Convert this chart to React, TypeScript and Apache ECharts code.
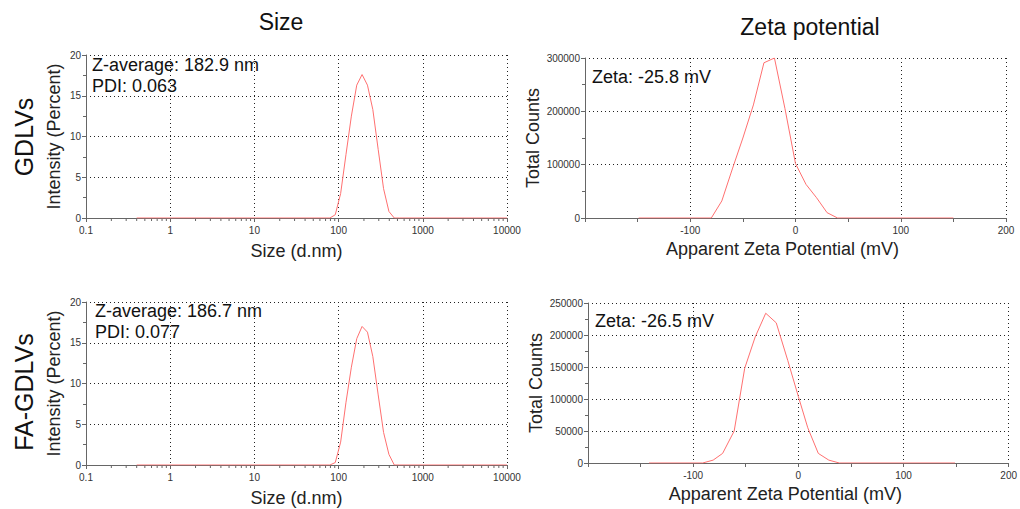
import React, { useEffect, useRef } from "react";
import * as echarts from "echarts";

const FONT = '"Liberation Sans", Arial, Helvetica, sans-serif';

// ---- Size distribution (intensity %) ----
const sizeBinsNm = [0.4, 78.82, 91.28, 105.7, 122.4, 141.8, 164.2, 190.1, 220.2, 255.0, 295.3, 342.0, 396.1, 458.7, 531.2, 10000];
const gdlvsIntensity = [0, 0, 0.4, 3.0, 7.8, 12.5, 16.3, 17.6, 16.3, 13.3, 8.4, 3.6, 0.8, 0, 0, 0];
const faGdlvsIntensity = [0, 0, 0.3, 2.8, 7.7, 12.0, 15.5, 17.0, 16.3, 13.3, 8.6, 4.0, 1.3, 0, 0, 0];

// ---- Zeta potential (total counts) ----
const gdlvsZetaMv = [-149, -80, -70, -60, -50, -40, -30, -20, -10, 0, 10, 20, 30, 40, 150];
const gdlvsCounts = [0, 0, 32000, 92000, 150000, 212000, 291000, 300000, 205000, 102000, 63000, 38000, 10000, 0, 0];
const faGdlvsZetaMv = [-142, -91, -81, -72, -61, -51, -41, -31, -21, -10, 0, 9, 19, 29, 39, 149];
const faGdlvsCounts = [0, 0, 4500, 15000, 50000, 148000, 197000, 234000, 219000, 160000, 104000, 55000, 15000, 4500, 0, 0];

// ---- Axis decoration ----
const logDecades = [0.1, 1, 10, 100, 1000];
const logMinorMultipliers = [2, 3, 4, 5, 6, 7, 8, 9];

const rowLabels = ["GDLVs", "FA-GDLVs"];
const columnTitles = ["Size", "Zeta potential"];
const sizeNotes = [
  ["Z-average: 182.9 nm", "PDI: 0.063"],
  ["Z-average: 186.7 nm", "PDI: 0.077"],
];
const zetaNotes = ["Zeta: -25.8 mV", "Zeta: -26.5 mV"];

const AXIS_COLOR = "#666";
const GRID_LINE = { color: "#222", type: [1, 3] as number[], width: 1 };
const LABEL = { fontSize: 10, color: "#333", fontFamily: FONT };
const NAME = { fontSize: 18, color: "#222", fontFamily: FONT };
const CURVE = "#ff7070";

function pairs(xs: number[], ys: number[]) {
  return xs.map((x, i) => [x, ys[i]]);
}

function buildOption() {
  const grids = [
    { left: 86, top: 55, width: 421, height: 163 },
    { left: 585, top: 58, width: 421, height: 160 },
    { left: 86, top: 302, width: 421, height: 163 },
    { left: 588, top: 303, width: 421, height: 160 },
  ];

  const baseAxis = {
    axisLine: { show: true, onZero: false, lineStyle: { color: AXIS_COLOR, width: 1 } },
    axisTick: { show: true, inside: false, length: 4, lineStyle: { color: AXIS_COLOR } },
    splitLine: { show: true, lineStyle: GRID_LINE },
  };

  const sizeX = (gridIndex: number) => ({
    ...baseAxis,
    type: "log",
    logBase: 10,
    gridIndex,
    min: 0.1,
    max: 10000,
    name: "Size (d.nm)",
    nameLocation: "middle",
    nameGap: 24,
    nameTextStyle: NAME,
    axisLabel: { ...LABEL, margin: 7, formatter: (v: number) => String(+v.toPrecision(6)) },
  });
  const zetaX = (gridIndex: number) => ({
    ...baseAxis,
    type: "value",
    gridIndex,
    min: -200,
    max: 200,
    interval: 100,
    name: "Apparent Zeta Potential (mV)",
    nameLocation: "middle",
    nameGap: 22,
    nameTextStyle: { ...NAME, padding: [0, 26, 0, 0] },
    minorTick: { show: true, splitNumber: 2, length: 4, lineStyle: { color: AXIS_COLOR } },
    axisLabel: { ...LABEL, margin: 7, formatter: (v: number) => (v === -200 ? "" : String(v)) },
  });
  const sizeY = (gridIndex: number) => ({
    ...baseAxis,
    type: "value",
    gridIndex,
    min: 0,
    max: 20,
    interval: 5,
    name: "Intensity (Percent)",
    nameLocation: "middle",
    nameRotate: 90,
    nameGap: 23,
    nameTextStyle: NAME,
    minorTick: { show: true, splitNumber: 2, length: 3, lineStyle: { color: AXIS_COLOR } },
    axisLabel: { ...LABEL, margin: 5, formatter: (v: number) => String(v) },
  });
  const zetaY = (gridIndex: number, max: number, interval: number) => ({
    ...baseAxis,
    type: "value",
    gridIndex,
    min: 0,
    max,
    interval,
    name: "Total Counts",
    nameLocation: "middle",
    nameRotate: 90,
    nameGap: 43,
    nameTextStyle: NAME,
    minorTick: { show: true, splitNumber: 2, length: 3, lineStyle: { color: AXIS_COLOR } },
    axisLabel: { ...LABEL, margin: 5, formatter: (v: number) => String(v) },
  });

  const minorLogTicks: number[][] = [];
  logDecades.forEach((d) => logMinorMultipliers.forEach((m) => minorLogTicks.push([+(d * m).toPrecision(6), 0])));

  const minorTickSeries = (axisIndex: number) => ({
    type: "custom",
    xAxisIndex: axisIndex,
    yAxisIndex: axisIndex,
    silent: true,
    clip: false,
    z: 1,
    data: minorLogTicks,
    renderItem: (_params: any, api: any) => {
      const p = api.coord([api.value(0), 0]);
      return {
        type: "line",
        shape: { x1: p[0], y1: p[1], x2: p[0], y2: p[1] + 3 },
        style: { stroke: AXIS_COLOR, lineWidth: 1 },
      };
    },
  });

  const line = (axisIndex: number, data: number[][]) => ({
    type: "line",
    xAxisIndex: axisIndex,
    yAxisIndex: axisIndex,
    data,
    showSymbol: false,
    symbol: "none",
    z: 5,
    lineStyle: { color: CURVE, width: 1 },
  });

  const text = (x: number, y: number, t: string, size: number, extra: any = {}) => ({
    type: "text",
    x,
    y,
    silent: true,
    ...extra,
    style: {
      text: t,
      fontSize: size,
      fontFamily: FONT,
      fill: "#111",
      align: extra.align || "left",
      verticalAlign: "middle",
    },
  });

  return {
    animation: false,
    backgroundColor: "#fff",
    grid: grids,
    xAxis: [sizeX(0), zetaX(1), sizeX(2), zetaX(3)],
    yAxis: [sizeY(0), zetaY(1, 300000, 100000), sizeY(2), zetaY(3, 250000, 50000)],
    series: [
      line(0, pairs(sizeBinsNm, gdlvsIntensity)),
      line(1, pairs(gdlvsZetaMv, gdlvsCounts)),
      line(2, pairs(sizeBinsNm, faGdlvsIntensity)),
      line(3, pairs(faGdlvsZetaMv, faGdlvsCounts)),
      minorTickSeries(0),
      minorTickSeries(2),
    ],
    graphic: [
      text(281, 22, columnTitles[0], 23, { align: "center" }),
      text(810, 27, columnTitles[1], 23, { align: "center" }),
      { ...text(24, 137, rowLabels[0], 25, { align: "center" }), rotation: Math.PI / 2 },
      { ...text(24, 392, rowLabels[1], 25, { align: "center" }), rotation: Math.PI / 2 },
      text(92, 64.5, sizeNotes[0][0], 18),
      text(92, 85.5, sizeNotes[0][1], 18),
      text(95, 311, sizeNotes[1][0], 18),
      text(95, 332, sizeNotes[1][1], 18),
      text(592, 76.5, zetaNotes[0], 18),
      text(595, 321, zetaNotes[1], 18),
    ],
  };
}

export default function App() {
  const ref = useRef<HTMLDivElement>(null);
  useEffect(() => {
    if (!ref.current) return;
    const chart = echarts.init(ref.current, undefined, { renderer: "svg" });
    chart.setOption(buildOption() as any);
    return () => chart.dispose();
  }, []);
  return (
    <div
      ref={ref}
      style={{ position: "absolute", left: 0, top: 0, width: 1020, height: 509, background: "#fff" }}
    />
  );
}
